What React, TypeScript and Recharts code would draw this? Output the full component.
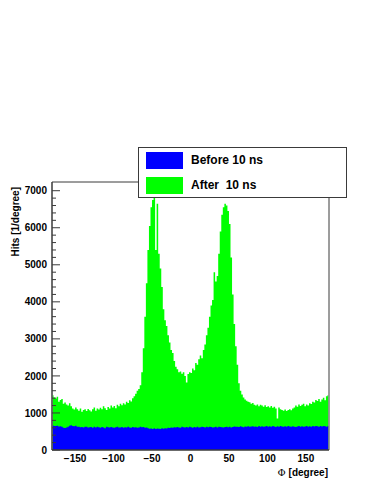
import React from 'react';
import { ComposedChart, Area, XAxis, YAxis, Legend, ReferenceArea } from 'recharts';

// bin width 2 degrees, 180 bins over [-180, 180]
const phiCenters: number[] = Array.from({ length: 180 }, (_, i) => -179 + 2 * i);

// "After 10 ns" histogram (green), hits per degree, bins from -179 to 179
const afterHits: number[] = [
  1480, 1420, 1390, 1440, 1300, 1350, 1380, 1250, 1280, 1230,
  1200, 1260, 1180, 1120, 1090, 1150, 1100, 1060, 1120, 1030,
  1080, 1100, 1050, 1110, 1070, 1040, 1100, 1150, 1060, 1120,
  1090, 1140, 1100, 1180, 1130, 1080, 1160, 1120, 1200, 1150,
  1190, 1130, 1220, 1180, 1250, 1210, 1260, 1230, 1300, 1270,
  1340, 1310, 1400, 1450, 1520, 1600, 1650, 1750, 2100, 2750,
  3600, 4500, 5400, 6050, 6550, 6750, 6890, 5400, 6650, 5300,
  4900, 4400, 3800, 3500, 3350, 3100, 2900, 2700, 2620, 2400,
  2250, 2180, 2100, 2120, 2060, 2100, 2000, 1820, 2050, 2100,
  2080, 2200, 2150, 2350, 2300, 2450, 2550, 2480, 2700, 2850,
  3100, 3300, 3600, 3900, 4050, 4800, 4550, 4700, 5300, 5900,
  6350, 6550, 6650, 6600, 6450, 6100, 5200, 4200, 3400, 2800,
  2300, 1800, 1600, 1500, 1420, 1360, 1330, 1300, 1290, 1250,
  1270, 1220, 1200, 1230, 1180, 1220, 1200, 1170, 1210, 1160,
  1180, 1150, 1190, 1140, 1170, 1120, 850, 1150, 1100, 1080,
  1060, 1090, 1050, 1080, 1100, 1070, 1120, 1150, 1200, 1170,
  1230, 1190, 1220, 1250, 1180, 1230, 1200, 1260, 1240, 1300,
  1280, 1350, 1320, 1380, 1300, 1360, 1410, 1340, 1450, 1480,
];

// "Before 10 ns" histogram (blue)
const beforeHits: number[] = [
  660, 650, 645, 655, 635, 640, 625, 600, 595, 610,
  630, 655, 665, 650, 640, 655, 630, 625, 615, 620,
  610, 625, 630, 605, 615, 620, 600, 625, 610, 630,
  615, 600, 620, 610, 590, 625, 615, 605, 620, 610,
  600, 615, 625, 605, 610, 620, 600, 615, 605, 625,
  610, 600, 620, 605, 615, 600, 610, 625, 615, 620,
  600, 610, 590, 575, 580, 570, 585, 565, 580, 575,
  570, 585, 575, 590, 580, 600, 595, 610, 600, 615,
  605, 620, 610, 600, 625, 615, 605, 620, 610, 625,
  615, 600, 620, 610, 625, 605, 615, 630, 620, 610,
  625, 615, 630, 620, 605, 615, 625, 610, 630, 620,
  615, 605, 620, 630, 615, 625, 610, 620, 635, 625,
  630, 620, 640, 625, 615, 635, 630, 640, 625, 635,
  640, 625, 635, 620, 645, 630, 640, 625, 635, 645,
  630, 640, 625, 645, 635, 620, 640, 630, 645, 635,
  625, 640, 630, 645, 635, 625, 640, 630, 620, 635,
  645, 630, 640, 625, 635, 650, 630, 640, 625, 645,
  635, 650, 640, 630, 645, 635, 650, 640, 630, 645,
];

const xTicks: number[] = [-150, -100, -50, 0, 50, 100, 150];
const yTicks: number[] = [
  0, 200, 400, 600, 800, 1000, 1200, 1400, 1600, 1800, 2000, 2200, 2400, 2600, 2800,
  3000, 3200, 3400, 3600, 3800, 4000, 4200, 4400, 4600, 4800, 5000, 5200, 5400, 5600,
  5800, 6000, 6200, 6400, 6600, 6800, 7000,
];
const xDomain: [number, number] = [-180, 180];
const yDomain: [number, number] = [0, 7235];
const seriesNames = { before: 'Before 10 ns', after: 'After  10 ns' };
const xTitle = '[degree]';
const yTitle = 'Hits [1/degree]';

const data = phiCenters.map((phi, i) => ({ phi, before: beforeHits[i], after: afterHits[i] }));

const FONT = '"Liberation Sans", Arial, Helvetica, sans-serif';
const FRAME = '#3a3a3a';

const YTick = (props: any) => {
  const { x, y, payload } = props;
  const v = payload.value as number;
  const major = v % 1000 === 0;
  return (
    <g>
      <line x1={x} x2={x + (major ? 8 : 4)} y1={y} y2={y} stroke={FRAME} strokeWidth={1} />
      {major && (
        <text x={x - 5} y={y} dy="0.36em" textAnchor="end" fontFamily={FONT} fontWeight="bold" fontSize={10} fill="#000">
          {v}
        </text>
      )}
    </g>
  );
};

const XTick = (props: any) => {
  const { x, y, payload } = props;
  const v = payload.value as number;
  return (
    <text x={x} y={y} dy="0.71em" textAnchor="middle" fontFamily={FONT} fontWeight="bold" fontSize={10} fill="#000">
      {String(v).replace('-', '\u2212')}
    </text>
  );
};

const XTitle = (props: any) => {
  const vb = props.viewBox || {};
  return (
    <text x={vb.x + vb.width - 1} y={vb.y + 26} textAnchor="end" fontFamily={FONT} fontWeight="bold" fontSize={10} fill="#000">
      <tspan fontFamily='"DejaVu Serif", "Liberation Serif", serif' fontWeight="normal">Φ</tspan>
      <tspan> {xTitle}</tspan>
    </text>
  );
};

const YTitle = (props: any) => {
  const vb = props.viewBox || {};
  const x = vb.x + vb.width - 33;
  const y = vb.y + 5;
  return (
    <text x={x} y={y} transform={`rotate(-90, ${x}, ${y})`} textAnchor="end" fontFamily={FONT} fontWeight="bold" fontSize={10} fill="#000">
      {yTitle}
    </text>
  );
};

const LegendBox = (props: any) => {
  const payload = [...(props.payload || [])].reverse();
  return (
    <div
      style={{
        width: 209,
        height: 51,
        boxSizing: 'border-box',
        border: `1px solid ${FRAME}`,
        background: '#fff',
        position: 'relative',
        fontFamily: FONT,
        fontWeight: 'bold',
        fontSize: 12,
        color: '#000',
      }}
    >
      {payload.map((p: any, i: number) => (
        <div key={i} style={{ position: 'absolute', left: 7, top: 4 + i * 25, height: 17, display: 'flex', alignItems: 'center' }}>
          <div style={{ width: 37, height: 17, background: p.color }} />
          <span style={{ marginLeft: 8, whiteSpace: 'pre', lineHeight: '17px' }}>{p.value}</span>
        </div>
      ))}
    </div>
  );
};

export default function App() {
  return (
    <div style={{ position: 'absolute', left: 0, top: 0, width: 374, height: 484, background: '#fff' }}>
      <ComposedChart width={374} height={484} data={data} margin={{ top: 182, right: 45, bottom: 0, left: 0 }}>
        <XAxis
          dataKey="phi"
          type="number"
          domain={xDomain}
          ticks={xTicks}
          allowDataOverflow
          interval={0}
          height={34}
          tickLine={false}
          tickSize={0}
          tickMargin={5}
          axisLine={{ stroke: FRAME }}
          tick={<XTick />}
          label={<XTitle />}
        />
        <YAxis
          type="number"
          domain={yDomain}
          ticks={yTicks}
          allowDataOverflow
          interval={0}
          width={52}
          tickLine={false}
          tickSize={0}
          tickMargin={0}
          axisLine={{ stroke: FRAME }}
          tick={<YTick />}
          label={<YTitle />}
        />
        <Area
          type="step"
          dataKey="after"
          name={seriesNames.after}
          fill="#00ff00"
          stroke="none"
          fillOpacity={1}
          baseValue={0}
          dot={false}
          activeDot={false}
          isAnimationActive={false}
        />
        <Area
          type="step"
          dataKey="before"
          name={seriesNames.before}
          fill="#0000ff"
          stroke="none"
          fillOpacity={1}
          baseValue={0}
          dot={false}
          activeDot={false}
          isAnimationActive={false}
        />
        <ReferenceArea x1={xDomain[0]} x2={xDomain[1]} y1={yDomain[0]} y2={yDomain[1]} fill="none" stroke={FRAME} strokeWidth={1} ifOverflow="visible" />
        <Legend
          layout="horizontal"
          verticalAlign="middle"
          align="center"
          content={<LegendBox />}
          wrapperStyle={{ position: 'absolute', left: 138, top: 147, width: 209, height: 51 }}
        />
      </ComposedChart>
    </div>
  );
}
